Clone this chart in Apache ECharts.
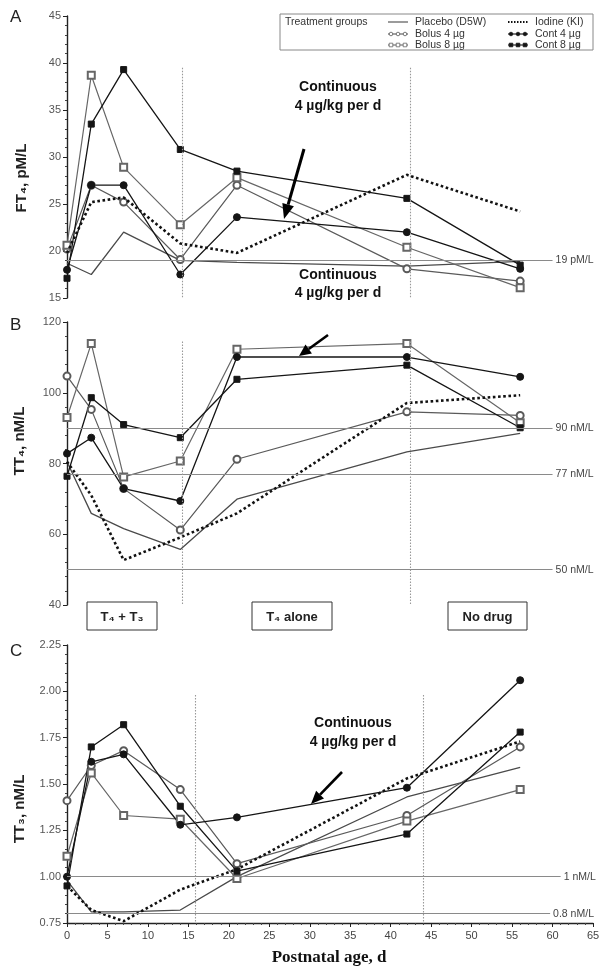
<!DOCTYPE html>
<html>
<head>
<meta charset="utf-8">
<script src="https://cdn.jsdelivr.net/npm/echarts@6/dist/echarts.min.js"></script>
<style>html,body{margin:0;padding:0;background:#fff}#c{width:609px;height:975px}</style>
</head>
<body>
<div id="c"></div>
<script>
// ---- data ----
var days = [0, 3, 7, 14, 21, 42, 56];
var groups = ['Placebo (D5W)', 'Bolus 4 \u00b5g', 'Bolus 8 \u00b5g', 'Iodine (KI)', 'Cont 4 \u00b5g', 'Cont 8 \u00b5g'];

// Panel A: FT4, pM/L
var ft4Placebo = [18.7, 17.5, 22.0, 19.0, 18.8, 18.4, 18.9];
var ft4Bolus4  = [20.2, 27.0, 25.2, 19.1, 27.0, 18.1, 16.8];
var ft4Bolus8  = [20.6, 38.7, 28.9, 22.8, 27.8, 20.4, 16.1];
var ft4Iodine  = [19.8, 25.2, 25.7, 20.8, 19.8, 28.1, 24.2];
var ft4Cont4   = [18.0, 27.0, 27.0, 17.5, 23.6, 22.0, 18.1];
var ft4Cont8   = [17.1, 33.5, 39.3, 30.8, 28.5, 25.6, 18.5];

// Panel B: TT4, nM/L
var tt4Placebo = [80.5, 65.9, 61.6, 55.7, 69.9, 83.3, 88.5];
var tt4Bolus4  = [104.7, 95.3, 72.9, 61.2, 81.2, 94.6, 93.6];
var tt4Bolus8  = [93.0, 113.9, 76.2, 80.7, 112.3, 113.9, 91.5];
var tt4Iodine  = [80.5, 71.0, 52.7, 59.1, 65.9, 97.1, 99.3];
var tt4Cont4   = [82.8, 87.3, 72.9, 69.4, 110.1, 110.1, 104.5];
var tt4Cont8   = [76.4, 98.6, 91.0, 87.3, 103.8, 107.8, 90.1];

// Panel C: TT3, nM/L
var tt3Placebo = [0.98, 0.81, 0.81, 0.82, 1.00, 1.43, 1.59];
var tt3Bolus4  = [1.41, 1.60, 1.68, 1.47, 1.07, 1.33, 1.70];
var tt3Bolus8  = [1.11, 1.56, 1.33, 1.31, 0.99, 1.30, 1.47];
var tt3Iodine  = [0.95, 0.82, 0.76, 0.93, 1.04, 1.53, 1.73];
var tt3Cont4   = [1.00, 1.62, 1.66, 1.28, 1.32, 1.48, 2.06];
var tt3Cont8   = [0.95, 1.70, 1.82, 1.38, 1.03, 1.23, 1.78];

// reference values and phase boundaries
var refA = [19];      var refALabels = ['19 pM/L'];
var refB = [90, 77, 50]; var refBLabels = ['90 nM/L', '77 nM/L', '50 nM/L'];
var refC = [1.0, 0.8]; var refCLabels = ['1 nM/L', '0.8 nM/L'];
var phaseA = [14.2, 42.4];
var phaseB = [14.2, 42.4];
var phaseC = [15.8, 44.0];
var yTicksA = [15, 45, 5];
var yTicksB = [40, 120, 20];
var yTicksC = [0.75, 2.25, 0.25];
var xTicks = [0, 65, 5];

// ---- styles ----
var styles = [
  {color:'#4a4a4a', width:1.3, type:'solid', symbol:'none', size:0},
  {color:'#5a5a5a', width:1.2, type:'solid', symbol:'emptyCircle', size:7},
  {color:'#666666', width:1.2, type:'solid', symbol:'emptyRect', size:7},
  {color:'#111111', width:2.6, type:'dotted', symbol:'none', size:0},
  {color:'#151515', width:1.3, type:'solid', symbol:'circle', size:7},
  {color:'#151515', width:1.3, type:'solid', symbol:'rect', size:6}
];

var panels = [
  {sets:[ft4Placebo, ft4Bolus4, ft4Bolus8, ft4Iodine, ft4Cont4, ft4Cont8], ref:refA, refL:refALabels, phase:phaseA, phaseTop:39.5, yt:yTicksA, refEnd:[60], dec:0},
  {sets:[tt4Placebo, tt4Bolus4, tt4Bolus8, tt4Iodine, tt4Cont4, tt4Cont8], ref:refB, refL:refBLabels, phase:phaseB, phaseTop:114.5, yt:yTicksB, refEnd:[60,60,60], dec:0},
  {sets:[tt3Placebo, tt3Bolus4, tt3Bolus8, tt3Iodine, tt3Cont4, tt3Cont8], ref:refC, refL:refCLabels, phase:phaseC, phaseTop:1.98, yt:yTicksC, refEnd:[61,59.7], dec:2}
];

var gridPos = [
  {left:67, top:16, width:526, height:282},
  {left:67, top:322, width:526, height:283},
  {left:67, top:645, width:526, height:278}
];

var grids = [], xAxes = [], yAxes = [], series = [];
panels.forEach(function (p, pi) {
  grids.push(gridPos[pi]);
  xAxes.push({
    type:'value', gridIndex:pi, min:xTicks[0], max:xTicks[1], interval:xTicks[2],
    show: pi === 2,
    axisLine:{show:true, onZero:false, lineStyle:{color:'#222', width:1.4}},
    axisTick:{show:true, length:4, lineStyle:{color:'#222'}},
    minorTick:{show:true, splitNumber:5, length:2, lineStyle:{color:'#444'}},
    axisLabel:{fontSize:11, color:'#444', margin:7, fontFamily:'Liberation Sans'},
    splitLine:{show:false}
  });
  yAxes.push({
    type:'value', gridIndex:pi, min:p.yt[0], max:p.yt[1], interval:p.yt[2], offset:2,
    axisLine:{show:true, lineStyle:{color:'#222', width:1.4}},
    axisTick:{show:true, length:4, lineStyle:{color:'#222'}},
    minorTick:{show:true, splitNumber:5, length:2, lineStyle:{color:'#444'}},
    axisLabel:{fontSize:11, color:'#555', margin:4, fontFamily:'Liberation Sans',
      formatter:function(v){return p.dec ? v.toFixed(p.dec) : String(v);}},
    splitLine:{show:false}
  });
  // reference & phase lines
  var ml = [];
  p.ref.forEach(function (r, i) {
    ml.push([{coord:[0, r], label:{show:true, position:'end', formatter:p.refL[i], fontSize:10.5, color:'#444', distance:3, fontFamily:'Liberation Sans'}, lineStyle:{color:'#8a8a8a', width:1.1, type:'solid'}},
             {coord:[p.refEnd[i], r]}]);
  });
  p.phase.forEach(function (d) {
    ml.push([{coord:[d, p.phaseTop], label:{show:false}, lineStyle:{color:'#999', width:1.1, type:[1.5,1.5]}},
             {coord:[d, p.yt[0]]}]);
  });
  series.push({type:'line', xAxisIndex:pi, yAxisIndex:pi, data:[], silent:true,
    markLine:{symbol:'none', silent:true, animation:false, data:ml}});
  p.sets.forEach(function (vals, gi) {
    var s = styles[gi];
    series.push({
      name: groups[gi], type:'line', xAxisIndex:pi, yAxisIndex:pi,
      data: days.map(function (d, i) { return [d, vals[i]]; }),
      symbol: s.symbol, symbolSize: s.size, showSymbol: s.symbol !== 'none',
      lineStyle:{color:s.color, width:s.width, type:s.type},
      itemStyle:{color:s.color, borderColor:s.color, borderWidth:1},
      z: gi === 3 ? 3 : 2
    });
  });
});

// ---- graphics (legend, annotations) ----
var G = [];
function txt(x, y, t, o) {
  o = o || {};
  G.push({type:'text', x:x, y:y, rotation:o.rot||0, z:50, style:{text:t, fontSize:o.fs||11, fontWeight:o.fw||'normal',
    fontFamily:o.ff||'Liberation Sans', fill:o.fill||'#222', align:o.al||'left', verticalAlign:'middle', lineHeight:o.lh}});
}
function seg(x1, y1, x2, y2, o) {
  o = o || {};
  G.push({type:'line', z:50, shape:{x1:x1,y1:y1,x2:x2,y2:y2}, style:{stroke:o.c||'#222', lineWidth:o.w||1.2, lineDash:o.dash||null}});
}
function arrow(x1, y1, x2, y2, w, hl, hw) {
  var dx = x2-x1, dy = y2-y1, L = Math.sqrt(dx*dx+dy*dy), ux = dx/L, uy = dy/L;
  var bx = x2-ux*hl, by = y2-uy*hl;
  seg(x1, y1, bx, by, {w:w, c:'#000'});
  G.push({type:'polygon', z:50, shape:{points:[[x2,y2],[bx-uy*hw,by+ux*hw],[bx+uy*hw,by-ux*hw]]}, style:{fill:'#000'}});
}
function box(x, y, w, h, t) {
  G.push({type:'rect', z:40, shape:{x:x,y:y,width:w,height:h}, style:{fill:'#fff', stroke:'#333', lineWidth:1}});
  txt(x+w/2, y+h/2+1, t, {fs:13, fw:'bold', al:'center'});
}

// legend
G.push({type:'rect', z:40, shape:{x:280,y:14,width:313,height:36}, style:{fill:'#fff', stroke:'#888', lineWidth:1}});
txt(285, 22, 'Treatment groups', {fs:10.5, fill:'#333'});
var legPos = [[388,22],[388,34],[388,45],[508,22],[508,34],[508,45]];
groups.forEach(function (g, gi) {
  var s = styles[gi], x = legPos[gi][0], y = legPos[gi][1];
  seg(x, y, x+20, y, {c:s.color, w:gi===3?2:1.1, dash:gi===3?[1.5,1.5]:null});
  if (s.symbol !== 'none') {
    [x+3, x+10, x+17].forEach(function (mx) {
      if (s.symbol.indexOf('ircle') >= 0)
        G.push({type:'circle', z:51, shape:{cx:mx, cy:y, r:1.8}, style:{fill:s.symbol==='circle'?s.color:'#fff', stroke:s.color, lineWidth:0.8}});
      else
        G.push({type:'rect', z:51, shape:{x:mx-1.8, y:y-1.8, width:3.6, height:3.6}, style:{fill:s.symbol==='rect'?s.color:'#fff', stroke:s.color, lineWidth:0.8}});
    });
  }
  txt(x+27, y, g, {fs:10.5, fill:'#333'});
});

// panel letters
txt(10, 17, 'A', {fs:17, fill:'#222'});
txt(10, 325, 'B', {fs:17, fill:'#222'});
txt(10, 651, 'C', {fs:17, fill:'#222'});

// y-axis titles
txt(22, 178, 'FT\u2084, pM/L', {fs:15, fw:'bold', al:'center', rot:Math.PI/2});
txt(20, 441, 'TT\u2084, nM/L', {fs:15, fw:'bold', al:'center', rot:Math.PI/2});
txt(20, 809, 'TT\u2083, nM/L', {fs:15, fw:'bold', al:'center', rot:Math.PI/2});

// annotations
txt(338, 87, 'Continuous', {fs:14, fw:'bold', al:'center', fill:'#111'});
txt(338, 106, '4 \u00b5g/kg per d', {fs:14, fw:'bold', al:'center', fill:'#111'});
txt(338, 275, 'Continuous', {fs:14, fw:'bold', al:'center', fill:'#111'});
txt(338, 293, '4 \u00b5g/kg per d', {fs:14, fw:'bold', al:'center', fill:'#111'});
txt(353, 723, 'Continuous', {fs:14, fw:'bold', al:'center', fill:'#111'});
txt(353, 742, '4 \u00b5g/kg per d', {fs:14, fw:'bold', al:'center', fill:'#111'});
arrow(304, 149, 284, 219, 3, 15, 6);
arrow(328, 335, 299, 356, 2.6, 12, 5.5);
arrow(342, 772, 311, 804, 2.6, 13, 5.5);

// phase boxes
box(87, 602, 70, 28, 'T\u2084 + T\u2083');
box(252, 602, 80, 28, 'T\u2084 alone');
box(448, 602, 79, 28, 'No drug');

// x-axis title
txt(329, 958, 'Postnatal age, d', {fs:17, fw:'bold', al:'center', ff:'Liberation Serif', fill:'#111'});

var chart = echarts.init(document.getElementById('c'), null, {renderer:'canvas'});
chart.setOption({
  animation:false,
  backgroundColor:'#fff',
  grid: grids, xAxis: xAxes, yAxis: yAxes, series: series,
  graphic: G
});
</script>
</body>
</html>
